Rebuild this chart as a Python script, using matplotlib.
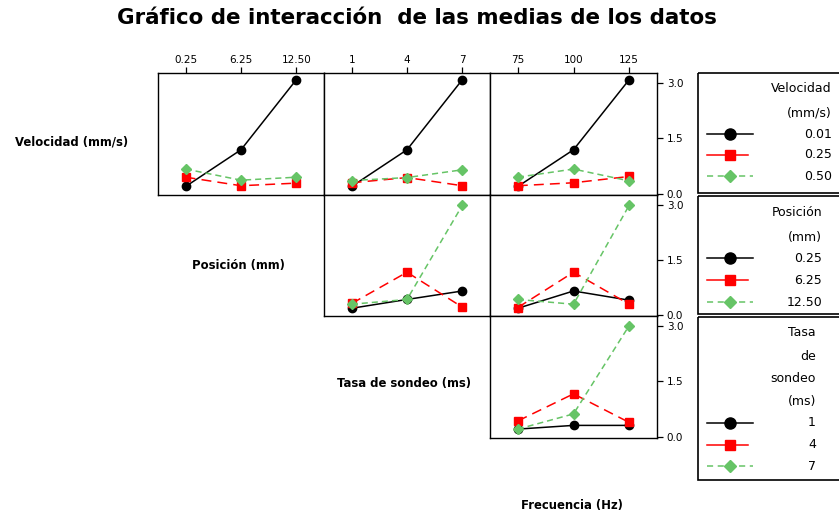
import matplotlib
matplotlib.use('Agg')
import matplotlib.pyplot as plt
from matplotlib.patches import Rectangle

plt.rcParams['font.family'] = ['DejaVu Sans']

# ---------------- data ----------------
velocidad_levels = ['0.01', '0.25', '0.50']
posicion_levels = ['0.25', '6.25', '12.50']
tasa_levels = ['1', '4', '7']
frecuencia_levels = ['75', '100', '125']

# Velocidad traces
vel_by_pos_001 = [0.20, 1.19, 3.08]
vel_by_pos_025 = [0.45, 0.22, 0.29]
vel_by_pos_050 = [0.67, 0.37, 0.45]

vel_by_tasa_001 = [0.20, 1.19, 3.08]
vel_by_tasa_025 = [0.30, 0.44, 0.22]
vel_by_tasa_050 = [0.36, 0.44, 0.65]

vel_by_frec_001 = [0.20, 1.19, 3.08]
vel_by_frec_025 = [0.22, 0.30, 0.47]
vel_by_frec_050 = [0.45, 0.67, 0.35]

# Posición traces
pos_by_tasa_025 = [0.18, 0.42, 0.65]
pos_by_tasa_625 = [0.31, 1.16, 0.21]
pos_by_tasa_1250 = [0.29, 0.42, 2.98]

pos_by_frec_025 = [0.18, 0.65, 0.40]
pos_by_frec_625 = [0.20, 1.16, 0.29]
pos_by_frec_1250 = [0.42, 0.29, 2.98]

# Tasa traces
tasa_by_frec_1 = [0.21, 0.31, 0.31]
tasa_by_frec_4 = [0.43, 1.16, 0.39]
tasa_by_frec_7 = [0.21, 0.62, 3.00]

y_ticks = [0.0, 1.5, 3.0]
y_ticklabels = ['0.0', '1.5', '3.0']

# ---------------- layout ----------------
W, H = 839, 516
fig = plt.figure(figsize=(W / 100, H / 100), dpi=100)


def rect(x0, y0, x1, y1):
    return [x0 / W, 1 - y1 / H, (x1 - x0) / W, (y1 - y0) / H]


col_edges = [158, 324, 490, 657]
row_edges = [73, 195, 316, 438]

GREEN = '#66C466'
styles = [
    dict(color='black', ls='-', marker='o', ms=6, lw=1.1, zorder=3),
    dict(color='#FF0000', ls=(0, (6.5, 4)), marker='s', ms=5.5, lw=1.1, zorder=4),
    dict(color=GREEN, ls=(0, (4, 2.6)), marker='D', ms=5.2, lw=1.1, zorder=5),
]

panels = [
    (0, 0, [vel_by_pos_001, vel_by_pos_025, vel_by_pos_050], posicion_levels),
    (0, 1, [vel_by_tasa_001, vel_by_tasa_025, vel_by_tasa_050], tasa_levels),
    (0, 2, [vel_by_frec_001, vel_by_frec_025, vel_by_frec_050], frecuencia_levels),
    (1, 1, [pos_by_tasa_025, pos_by_tasa_625, pos_by_tasa_1250], tasa_levels),
    (1, 2, [pos_by_frec_025, pos_by_frec_625, pos_by_frec_1250], frecuencia_levels),
    (2, 2, [tasa_by_frec_1, tasa_by_frec_4, tasa_by_frec_7], frecuencia_levels),
]

for r, c, series, xlabels in panels:
    ax = fig.add_axes(rect(col_edges[c], row_edges[r], col_edges[c + 1], row_edges[r + 1]))
    xs = list(range(len(xlabels)))
    for vals, st in zip(series, styles):
        ax.plot(xs, vals, **st)
    ax.set_xlim(-0.5, 2.5)
    ax.set_ylim(-0.03, 3.26)
    for sp in ax.spines.values():
        sp.set_linewidth(1.0)
        sp.set_color('black')
    if r == 0:
        ax.xaxis.tick_top()
        ax.set_xticks(xs)
        ax.set_xticklabels(xlabels, fontsize=7.5)
        ax.tick_params(axis='x', direction='out', length=4, width=0.9, pad=2)
    else:
        ax.set_xticks([])
    if c == 2:
        ax.yaxis.tick_right()
        ax.set_yticks(y_ticks)
        ax.set_yticklabels(y_ticklabels, fontsize=7.5)
        ax.tick_params(axis='y', direction='out', length=4, width=0.9, pad=3)
    else:
        ax.set_yticks([])

# ---------------- texts ----------------
fig.text(417 / W, 1 - 18 / H, 'Gráfico de interacción  de las medias de los datos',
         ha='center', va='center', fontsize=15.4, fontweight='bold')

label_kw = dict(ha='center', va='center', fontsize=8.4, fontweight='bold')
fig.text(72 / W, 1 - 142 / H, 'Velocidad (mm/s)', **label_kw)
fig.text(238 / W, 1 - 266 / H, 'Posición (mm)', **label_kw)
fig.text(404 / W, 1 - 384 / H, 'Tasa de sondeo (ms)', **label_kw)
fig.text(572 / W, 1 - 506 / H, 'Frecuencia (Hz)', **label_kw)

# ---------------- legends ----------------
lax = fig.add_axes([0, 0, 1, 1])
lax.set_xlim(0, W)
lax.set_ylim(H, 0)
lax.axis('off')

legend_specs = [
    ((73, 193), ['Velocidad', '(mm/s)'], velocidad_levels, [88, 113], [134, 155, 176], 832),
    ((196, 314), ['Posición', '(mm)'], posicion_levels, [212, 237], [258, 280, 302], 822),
    ((317, 480), ['Tasa', 'de', 'sondeo', '(ms)'], tasa_levels,
     [333, 357, 379, 401], [423, 445, 466], 816),
]

leg_line_styles = [
    dict(color='black', ls='-', lw=1.1, marker='o', ms=8),
    dict(color='#FF0000', ls='-', lw=1.1, marker='s', ms=7),
    dict(color=GREEN, ls=(0, (4, 3)), lw=1.1, marker='D', ms=6.5),
]
sample_x = [(707, 753), (707, 748), (707, 753)]

for (y0, y1), title_lines, levels, ty, ey, xr in legend_specs:
    lax.add_patch(Rectangle((698, y0), 200, y1 - y0, fill=False, ec='black', lw=1.2))
    for t, y in zip(title_lines, ty):
        lax.text(xr, y, t, ha='right', va='center', fontsize=9)
    for lev, y, st, (xa, xb) in zip(levels, ey, leg_line_styles, sample_x):
        lax.plot([xa, xb], [y, y], color=st['color'], ls=st['ls'], lw=st['lw'])
        lax.plot([730], [y], color=st['color'], marker=st['marker'], ms=st['ms'], ls='none')
        lax.text(xr, y, lev, ha='right', va='center', fontsize=9)

fig.savefig('out.png', dpi=100)
